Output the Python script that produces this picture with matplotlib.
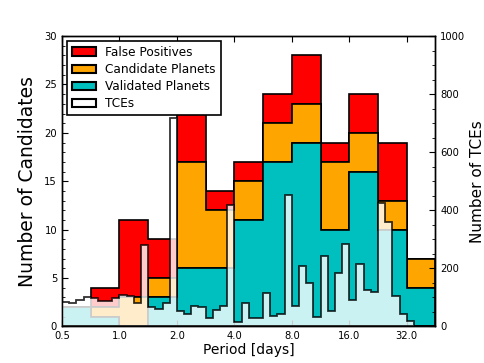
import matplotlib
matplotlib.use("Agg")
import matplotlib.pyplot as plt
import numpy as np
from matplotlib.ticker import AutoMinorLocator, FixedLocator, NullLocator, FuncFormatter

# candidate counts in half-octave period bins, 0.5 .. 45.25 days
cand_edges = 0.5 * np.sqrt(2.0) ** np.arange(14)
validated = [2, 1, 0, 3, 6, 6, 11, 17, 19, 10, 16, 10, 4]
candidates = [0, 1, 3, 2, 11, 6, 4, 4, 4, 7, 4, 3, 3]
false_pos = [0, 2, 8, 4, 5, 2, 2, 3, 5, 2, 4, 6, 0]

# TCE counts in 1/8-octave bins
tce_edges = 0.5 * 2.0 ** (np.arange(53) / 8.0)
tces = [86, 81, 91, 100, 97, 89, 89, 97, 108, 105, 82, 281, 68, 59, 82, 718,
        53, 44, 70, 68, 28, 57, 70, 420, 17, 80, 28, 28, 116, 36, 43, 453,
        70, 209, 151, 32, 243, 54, 185, 284, 91, 215, 126, 120, 425, 361, 104, 42,
        19, 0, 0, 0]

period_ticks = [0.5, 1.0, 2.0, 4.0, 8.0, 16.0, 32.0]

fig = plt.figure(figsize=(4.85, 3.63), dpi=100)
ax = fig.add_axes([0.1278, 0.1006, 0.770, 0.800])

cand_mid = np.sqrt(cand_edges[:-1] * cand_edges[1:])
ax.hist([cand_mid] * 3, bins=cand_edges, weights=[validated, candidates, false_pos],
        stacked=True, histtype='stepfilled',
        color=['#00BFBF', '#FFA500', '#FF0000'], edgecolor='k', linewidth=1.2)

ax.set_xscale('log', base=2)
ax.set_xlim(cand_edges[0], cand_edges[-1])
ax.set_ylim(0, 30)
ax.xaxis.set_major_locator(FixedLocator(period_ticks))
ax.xaxis.set_major_formatter(FuncFormatter(lambda v, p: '%.1f' % v))
ax.xaxis.set_minor_locator(NullLocator())
ax.yaxis.set_minor_locator(AutoMinorLocator(5))
ax.tick_params(axis='x', which='both', direction='in', top=True, labelsize=7.2, pad=3, length=4)
ax.tick_params(axis='y', which='major', direction='in', labelsize=7.2, pad=3.5, length=4)
ax.tick_params(axis='y', which='minor', direction='in', length=2)
ax.set_xlabel('Period [days]', fontsize=10, labelpad=2)
ax.set_ylabel('Number of Candidates', fontsize=13.5, labelpad=5)

ax2 = ax.twinx()
tce_mid = np.sqrt(tce_edges[:-1] * tce_edges[1:])
ax2.hist(tce_mid, bins=tce_edges, weights=tces, histtype='stepfilled',
         facecolor='w', edgecolor='k', alpha=0.8, linewidth=1.3)
ax2.set_ylim(0, 1000)
ax2.set_yticks([0, 200, 400, 600, 800, 1000])
ax2.yaxis.set_minor_locator(AutoMinorLocator(4))
ax2.tick_params(axis='y', which='major', direction='in', labelsize=7.2, pad=3.5, length=4)
ax2.tick_params(axis='y', which='minor', direction='in', length=2)
ax2.set_ylabel('Number of TCEs', fontsize=11, labelpad=3)

for a in (ax, ax2):
    for s in a.spines.values():
        s.set_linewidth(1.0)

handles = [plt.Rectangle((0, 0), 1, 1, fc='#FF0000', ec='k', lw=1.5),
           plt.Rectangle((0, 0), 1, 1, fc='#FFA500', ec='k', lw=1.5),
           plt.Rectangle((0, 0), 1, 1, fc='#00BFBF', ec='k', lw=1.5),
           plt.Rectangle((0, 0), 1, 1, fc='w', ec='k', lw=1.5)]
labels = ['False Positives', 'Candidate Planets', 'Validated Planets', 'TCEs']
leg = ax2.legend(handles, labels, loc='upper left', fontsize=8.7, fancybox=False,
                 framealpha=1, edgecolor='k', labelspacing=0.35, handlelength=2.0,
                 handletextpad=0.8, borderaxespad=0.4, borderpad=0.4)
leg.get_frame().set_linewidth(1.2)

fig.savefig('out.png', dpi=100, facecolor='w')
